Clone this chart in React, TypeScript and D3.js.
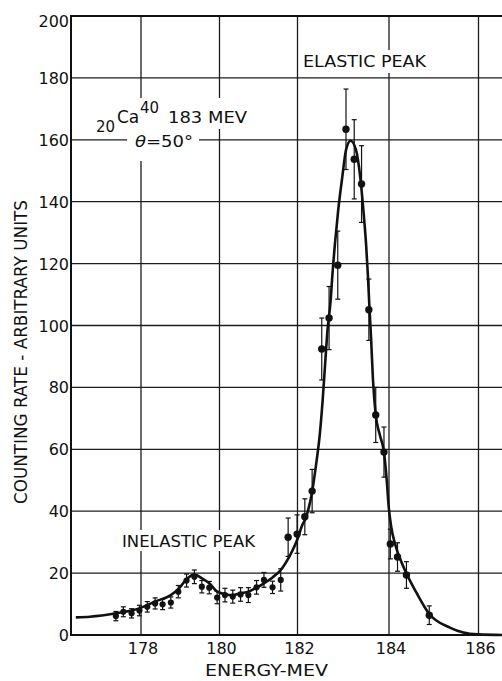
import React from 'react';
import * as d3 from 'd3';

// Measured data points (energy in MeV, counting rate, error half-length)
const energy = [177.36, 177.55, 177.76, 177.96, 178.16, 178.36, 178.55, 178.76, 178.95, 179.16, 179.36, 179.55, 179.74, 179.94, 180.14, 180.34, 180.54, 180.74, 180.95, 181.14, 181.36, 181.57, 181.76, 181.99, 182.16, 182.32, 182.53, 182.69, 182.88, 183.06, 183.24, 183.40, 183.56, 183.71, 183.89, 184.03, 184.19, 184.39, 184.90];
const counts = [6.1, 7.5, 7.0, 7.9, 9.1, 10.2, 9.9, 10.5, 14.0, 17.6, 18.8, 15.6, 15.3, 12.1, 12.9, 12.4, 13.1, 12.9, 15.4, 17.8, 15.4, 17.8, 31.6, 32.6, 38.2, 46.5, 92.4, 102.4, 119.5, 163.4, 153.7, 145.7, 105.1, 71.1, 59.1, 29.4, 25.2, 19.4, 6.4];
const errors = [1.5, 1.6, 1.5, 1.7, 1.7, 1.8, 1.7, 1.8, 2.0, 2.1, 2.2, 2.0, 2.0, 2.0, 2.2, 2.1, 2.2, 2.4, 2.2, 2.4, 2.0, 3.6, 6.2, 6.2, 5.8, 7.0, 10.0, 10.2, 11.0, 13.0, 12.8, 12.4, 9.9, 8.9, 8.1, 4.8, 4.6, 4.3, 3.0];

// Fitted curve drawn through the data
const curveEnergy = [176.34, 176.70, 177.36, 177.96, 178.36, 178.76, 178.95, 179.16, 179.36, 179.55, 179.74, 179.94, 180.14, 180.34, 180.54, 180.74, 180.95, 181.14, 181.36, 181.57, 181.81, 182.00, 182.09, 182.19, 182.32, 182.40, 182.49, 182.55, 182.60, 182.65, 182.725, 182.76, 182.82, 182.89, 182.98, 183.06, 183.16, 183.28, 183.37, 183.44, 183.50, 183.54, 183.57, 183.61, 183.65, 183.71, 183.80, 183.89, 183.95, 183.99, 184.05, 184.13, 184.32, 184.62, 184.90, 185.36, 185.66, 185.99, 186.53];
const curveCounts = [5.7, 5.9, 7.0, 8.6, 10.8, 12.9, 14.8, 18.0, 19.6, 18.3, 16.7, 14.0, 13.2, 12.9, 13.5, 14.0, 15.3, 16.7, 18.6, 21.0, 25.8, 31.0, 35.0, 38.2, 46.3, 54.4, 65.2, 75.9, 86.7, 97.5, 108.2, 115.8, 126.6, 137.3, 148.1, 156.7, 159.7, 156.7, 148.1, 137.3, 126.0, 115.8, 106.6, 95.3, 82.4, 71.1, 64.6, 59.1, 50.1, 42.0, 34.9, 29.7, 22.1, 13.5, 6.8, 2.4, 0.8, 0.2, 0];

const xTicks = [178, 180, 182, 184, 186];
const yTicks = [0, 20, 40, 60, 80, 100, 120, 140, 160, 180, 200];

const W = 502;
const H = 681;
const FONT = "'DejaVu Sans', sans-serif";
const INK = '#111';

export default function App() {
  const x = d3.scaleLinear().domain(xTicks).range([141, 219.5, 297.5, 389, 478.5]);
  const y = d3.scaleLinear().domain([0, 200]).range([635, 16]);
  const left = 71;
  const right = W;

  const line = d3
    .line<[number, number]>()
    .x((d) => x(d[0]))
    .y((d) => y(d[1]))
    .curve(d3.curveMonotoneX);
  const curvePts: [number, number][] = curveEnergy.map((e, i) => [e, curveCounts[i]]);
  const pts = energy.map((e, i) => ({ e, c: counts[i], err: errors[i] }));

  return (
    <svg
      width={W}
      height={H}
      viewBox={`0 0 ${W} ${H}`}
      style={{ position: 'absolute', left: 0, top: 0, background: '#fff' }}
    >
      <rect x={0} y={0} width={W} height={H} fill="#fff" />
      {/* grid */}
      <g stroke="#1c1c1c" strokeWidth={1.3}>
        {yTicks.filter((t) => t > 0 && t < 200).map((t) => (
          <line key={'gy' + t} x1={left} x2={right} y1={y(t)} y2={y(t)} />
        ))}
        {xTicks.map((t) => (
          <line key={'gx' + t} x1={x(t)} x2={x(t)} y1={y(200)} y2={y(0)} />
        ))}
      </g>
      {/* knockouts behind annotations */}
      <g fill="#fff">
        <rect x={92} y={98} width={160} height={31} />
        <rect x={127} y={129} width={72} height={32} />
        <rect x={301} y={50} width={130} height={23} />
        <rect x={118} y={530} width={141} height={21} />
      </g>
      {/* frame */}
      <g stroke={INK} strokeWidth={2}>
        <line x1={left} x2={left} y1={y(200) - 1} y2={y(0) + 1} />
        <line x1={left} x2={right} y1={y(0)} y2={y(0)} />
        <line x1={left} x2={right} y1={y(200)} y2={y(200)} />
      </g>
      {/* tick labels */}
      <g fontFamily={FONT} fontSize={16} fill={INK}>
        {yTicks.map((t) => (
          <text key={'ty' + t} x={69} y={y(t) + (t === 200 ? 11 : 6)} textAnchor="end">
            {t}
          </text>
        ))}
        {xTicks.map((t) => (
          <text key={'tx' + t} x={x(t) + 2} y={654} textAnchor="middle">
            {t}
          </text>
        ))}
      </g>
      {/* axis titles */}
      <text
        x={266.5}
        y={676}
        fontFamily={FONT}
        fontSize={16}
        fill={INK}
        textAnchor="middle"
        textLength={123}
        lengthAdjust="spacingAndGlyphs"
      >
        ENERGY-MEV
      </text>
      <text
        transform="translate(27,352) rotate(-90)"
        fontFamily={FONT}
        fontSize={17}
        fill={INK}
        textAnchor="middle"
        textLength={304}
        lengthAdjust="spacingAndGlyphs"
      >
        COUNTING RATE - ARBITRARY UNITS
      </text>
      {/* annotations */}
      <g fontFamily={FONT} fill={INK}>
        <text x={96} y={132} fontSize={15}>20</text>
        <text x={117} y={123} fontSize={17}>Ca</text>
        <text x={140} y={113} fontSize={15}>40</text>
        <text x={168} y={123} fontSize={16} textLength={79} lengthAdjust="spacingAndGlyphs">183 MEV</text>
        <text x={135} y={147} fontSize={16} textLength={58} lengthAdjust="spacingAndGlyphs">
          <tspan fontStyle="italic">θ</tspan>=50°
        </text>
        <text x={303} y={67} fontSize={16} textLength={123} lengthAdjust="spacingAndGlyphs">ELASTIC PEAK</text>
        <text x={122} y={547} fontSize={16} textLength={133} lengthAdjust="spacingAndGlyphs">INELASTIC PEAK</text>
      </g>
      {/* fitted curve */}
      <path d={line(curvePts) || ''} fill="none" stroke={INK} strokeWidth={2.6} />
      {/* error bars */}
      <g stroke={INK} strokeWidth={1.2}>
        {pts.map((p, i) => (
          <g key={'e' + i}>
            <line x1={x(p.e)} x2={x(p.e)} y1={y(p.c - p.err)} y2={y(p.c + p.err)} />
            <line x1={x(p.e) - 2.5} x2={x(p.e) + 2.5} y1={y(p.c - p.err)} y2={y(p.c - p.err)} />
            <line x1={x(p.e) - 2.5} x2={x(p.e) + 2.5} y1={y(p.c + p.err)} y2={y(p.c + p.err)} />
          </g>
        ))}
      </g>
      {/* points */}
      <g fill={INK}>
        {pts.map((p, i) => (
          <circle key={'p' + i} cx={x(p.e)} cy={y(p.c)} r={p.e > 181.7 ? 3.7 : 3.1} />
        ))}
      </g>
    </svg>
  );
}
